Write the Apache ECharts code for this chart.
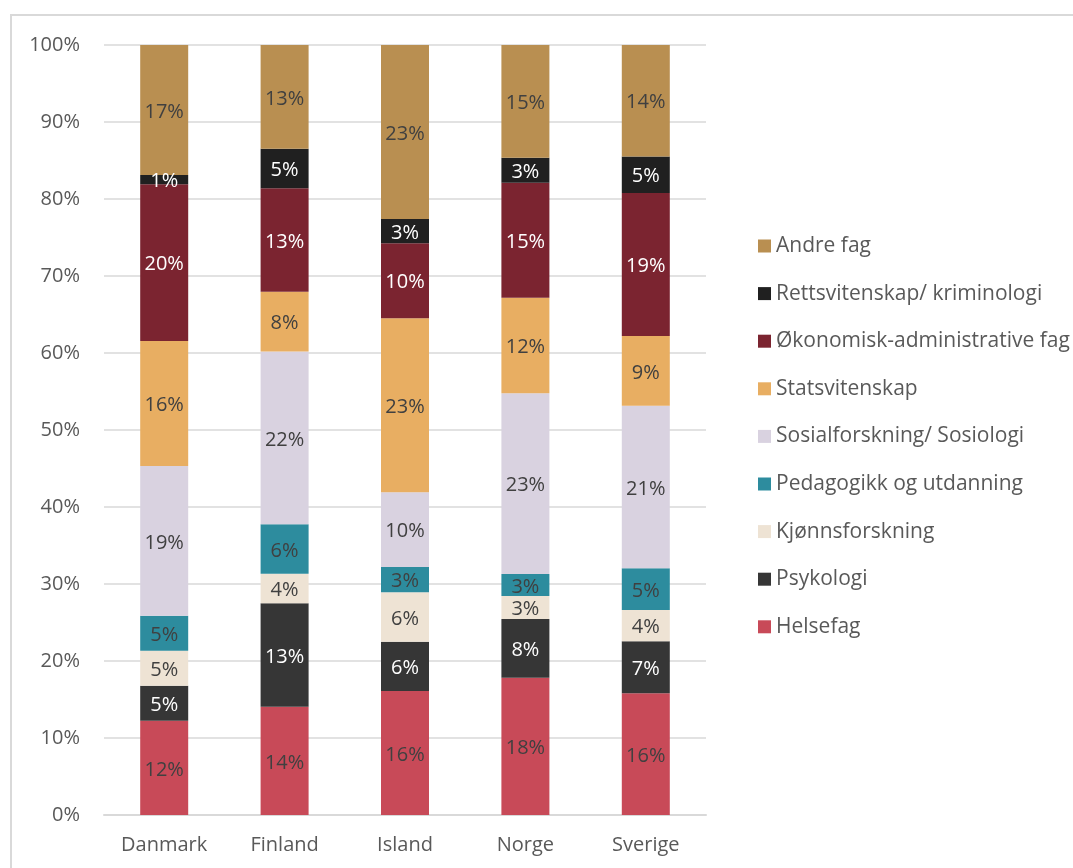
<!DOCTYPE html>

<html>
	<head>
		<meta charset="UTF-8" />
		<title>Fagfelt per land</title>
		<style>
			html, body { margin: 0; padding: 0; background: #fff; }
			#mainChart { width: 1073px; height: 868px; }
		</style>
	</head>

	<body>
		<div id="mainChart"></div>

		<script type="text/javascript" src="https://cdn.jsdelivr.net/npm/echarts@6/dist/echarts.min.js"></script>
		<script type="text/javascript">
			//land
			const countries = ["Danmark", "Finland", "Island", "Norge", "Sverige"];
			//andel i prosent, nederst først
			const helsefag = [12.25, 14.06, 16.10, 17.83, 15.81];
			const psykologi = [4.54, 13.43, 6.41, 7.62, 6.75];
			const kjonnsforskning = [4.55, 3.85, 6.41, 2.99, 4.06];
			const pedagogikk = [4.54, 6.41, 3.29, 2.86, 5.42];
			const sosialforskning = [19.45, 22.45, 9.70, 23.47, 21.12];
			const statsvitenskap = [16.24, 7.76, 22.60, 12.41, 9.05];
			const okonomisk = [20.34, 13.43, 9.74, 14.94, 18.57];
			const rettsvitenskap = [1.21, 5.14, 3.15, 3.24, 4.75];
			const andreFag = [16.88, 13.47, 22.60, 14.64, 14.47];

			const yTicks = [0, 10, 20, 30, 40, 50, 60, 70, 80, 90, 100];

			const fontFamily = "'Open Sans', 'Noto Sans', sans-serif";
			const greyText = "#595959";
			const darkLabel = "#404040";

			//navn, data, farge, etikettfarge
			const seriesDefs = [
				["Helsefag", helsefag, "#c84a58", darkLabel],
				["Psykologi", psykologi, "#363636", "#fff"],
				["Kjønnsforskning", kjonnsforskning, "#eee3d4", darkLabel],
				["Pedagogikk og utdanning", pedagogikk, "#2d8c9e", darkLabel],
				["Sosialforskning/ Sosiologi", sosialforskning, "#d9d2e0", darkLabel],
				["Statsvitenskap", statsvitenskap, "#e8ae62", darkLabel],
				["Økonomisk-administrative fag", okonomisk, "#7b2430", "#fff"],
				["Rettsvitenskap/ kriminologi", rettsvitenskap, "#202020", "#fff"],
				["Andre fag", andreFag, "#b98f51", darkLabel]
			];

			const chart = echarts.init(document.getElementById("mainChart"));

			const series = seriesDefs.map(function(d) {
				return {
					name: d[0],
					type: "bar",
					stack: "total",
					barWidth: 48,
					data: d[1],
					itemStyle: { color: d[2] },
					label: {
						show: true,
						position: "inside",
						offset: [0, 2],
						color: d[3],
						fontSize: 20,
						fontFamily: fontFamily,
						formatter: function(p) {
							return Math.round(p.value) + "%";
						}
					}
				};
			});

			const option = {
				animation: false,
				backgroundColor: "#fff",
				textStyle: { fontFamily: fontFamily },
				graphic: [{
					type: "rect",
					shape: { x: 11, y: 15, width: 1100, height: 900 },
					style: { fill: "none", stroke: "#d9d9d9", lineWidth: 2 }
				}],
				grid: {
					left: 104,
					right: 367,
					top: 45,
					bottom: 53,
					containLabel: false
				},
				legend: {
					orient: "vertical",
					left: 753,
					top: 229,
					icon: "rect",
					itemWidth: 13,
					itemHeight: 13,
					itemGap: 23.6,
					//rekkefølge ovenfra som i originalen
					data: seriesDefs.map(function(d) { return d[0]; }).reverse(),
					textStyle: {
						color: greyText,
						fontSize: 21,
						lineHeight: 24,
						fontFamily: fontFamily
					}
				},
				xAxis: {
					type: "category",
					data: countries,
					axisTick: { show: false },
					axisLine: { lineStyle: { color: "#d9d9d9", width: 2 } },
					axisLabel: {
						color: greyText,
						fontSize: 20,
						margin: 20,
						fontFamily: fontFamily
					}
				},
				yAxis: {
					type: "value",
					min: yTicks[0],
					max: yTicks[yTicks.length - 1],
					interval: 10,
					axisLine: { show: false },
					axisTick: { show: false },
					splitLine: { lineStyle: { color: "#d9d9d9", width: 1.5 } },
					axisLabel: {
						color: greyText,
						fontSize: 20,
						margin: 24,
						fontFamily: fontFamily,
						formatter: "{value}%"
					}
				},
				series: series
			};

			chart.setOption(option);
		</script>
	</body>
</html>
